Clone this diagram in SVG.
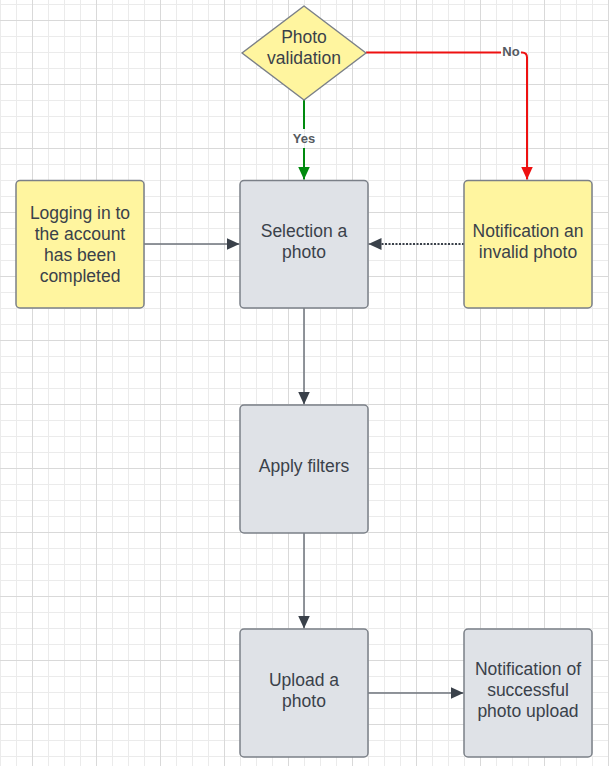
<svg xmlns="http://www.w3.org/2000/svg" width="609" height="766" viewBox="0 0 609 766">
<defs>
<pattern id="minor" patternUnits="userSpaceOnUse" x="0" y="4" width="16" height="16">
<path d="M0.5 0V16M0 0.5H16" stroke="#ebebeb" stroke-width="1" fill="none"/>
</pattern>
<pattern id="major" patternUnits="userSpaceOnUse" x="32" y="20" width="64" height="64">
<path d="M0.5 0V64M0 0.5H64" stroke="#d9d9d9" stroke-width="1" fill="none"/>
</pattern>
<marker id="ah" markerUnits="userSpaceOnUse" markerWidth="14" markerHeight="12" refX="13" refY="6" orient="auto">
<path d="M0 0L13 6L0 12Z" fill="#3a414a"/>
</marker>
<marker id="ahg" markerUnits="userSpaceOnUse" markerWidth="14" markerHeight="12" refX="13" refY="6" orient="auto">
<path d="M0 0L13 6L0 12Z" fill="#008a0e"/>
</marker>
<marker id="ahr" markerUnits="userSpaceOnUse" markerWidth="14" markerHeight="12" refX="13" refY="6" orient="auto">
<path d="M0 0L13 6L0 12Z" fill="#ee1111"/>
</marker>
</defs>
<style>
.box{stroke:#7b8088;stroke-width:1.5}
.y{fill:#fff59f}
.g{fill:#dfe2e7}
.t{font-family:"Liberation Sans",Arial,sans-serif;font-size:17.5px;fill:#3a414a;text-anchor:middle}
.lbl{font-family:"Liberation Sans",Arial,sans-serif;font-size:13px;font-weight:bold;fill:#555a60;text-anchor:middle}
.c{fill:none;stroke:#6d727a;stroke-width:1.5}
</style>
<rect width="609" height="766" fill="#ffffff"/>
<rect width="609" height="766" fill="url(#minor)"/>
<rect width="609" height="766" fill="url(#major)"/>

<g id="connectors">
<path class="c" d="M304 100V129M304 148V179.5" style="stroke:#008a0e;stroke-width:2" marker-end="url(#ahg)"/>
<text class="lbl" x="304" y="142.5">Yes</text>
<path class="c" d="M366 52.5H501M521 52.5H522Q527 52.5 527 57.5V179.5" style="stroke:#ee1111;stroke-width:2" marker-end="url(#ahr)"/>
<text class="lbl" x="511" y="56">No</text>
<path class="c" d="M144 244H239.5" marker-end="url(#ah)"/>
<path class="c" d="M464 244H368.5" style="stroke:#3a414a;stroke-width:2;stroke-dasharray:2 1.5" marker-end="url(#ah)"/>
<path class="c" d="M304 308V404.5" marker-end="url(#ah)"/>
<path class="c" d="M304 533V628.5" marker-end="url(#ah)"/>
<path class="c" d="M368 693H463.5" marker-end="url(#ah)"/>
</g>

<g id="photo-validation">
<path class="box y" d="M304 6L366 53L304 100L242 53Z" stroke-linejoin="round"/>
<text class="t" x="304" y="43">Photo</text>
<text class="t" x="304" y="63.5">validation</text>
</g>

<g id="logging-in">
<rect class="box y" x="16" y="180.5" width="128" height="127.5" rx="4"/>
<text class="t" x="80" y="219">Logging in to</text>
<text class="t" x="80" y="240">the account</text>
<text class="t" x="80" y="261">has been</text>
<text class="t" x="80" y="282">completed</text>
</g>

<g id="selection-photo">
<rect class="box g" x="240" y="180.5" width="128" height="127.5" rx="4"/>
<text class="t" x="304" y="237">Selection a</text>
<text class="t" x="304" y="258">photo</text>
</g>

<g id="notification-invalid">
<rect class="box y" x="464" y="180.5" width="128" height="127.5" rx="4"/>
<text class="t" x="528" y="237">Notification an</text>
<text class="t" x="528" y="258">invalid photo</text>
</g>

<g id="apply-filters">
<rect class="box g" x="240" y="405" width="128" height="128" rx="4"/>
<text class="t" x="304" y="472">Apply filters</text>
</g>

<g id="upload-photo">
<rect class="box g" x="240" y="629" width="128" height="128" rx="4"/>
<text class="t" x="304" y="685.5">Upload a</text>
<text class="t" x="304" y="706.5">photo</text>
</g>

<g id="notification-success">
<rect class="box g" x="464" y="629" width="128" height="128" rx="4"/>
<text class="t" x="528" y="674.5">Notification of</text>
<text class="t" x="528" y="695.5">successful</text>
<text class="t" x="528" y="716.5">photo upload</text>
</g>
</svg>
